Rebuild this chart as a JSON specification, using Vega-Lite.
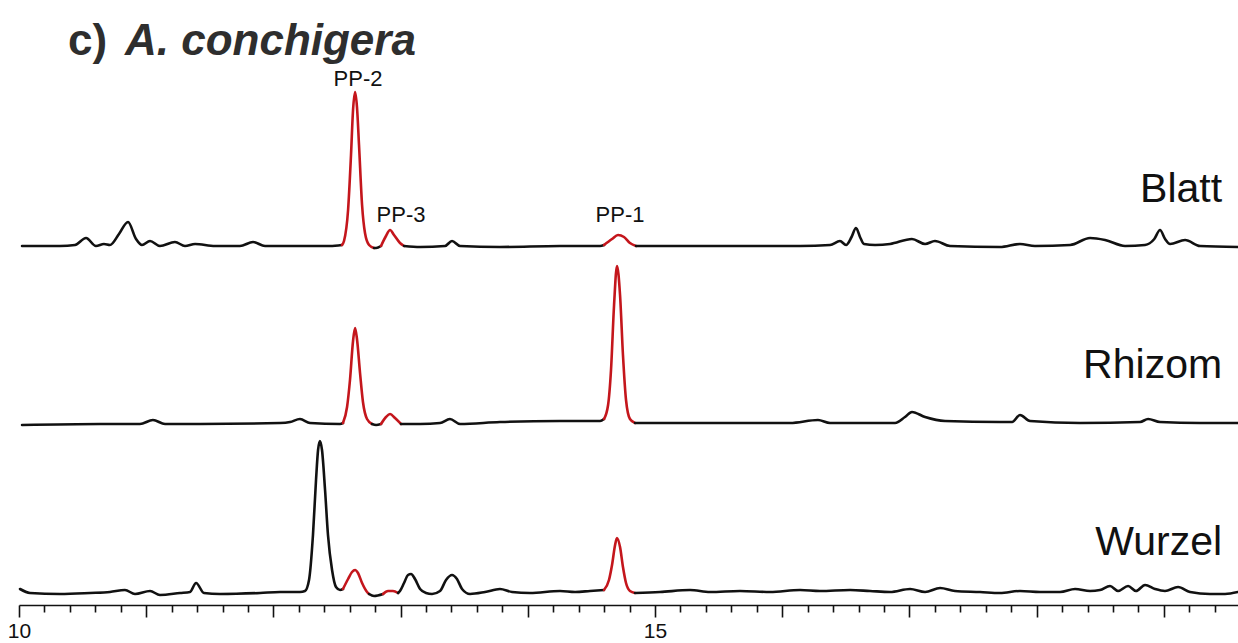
{
  "$schema": "https://vega.github.io/schema/vega-lite/v6.json",
  "autosize": {"type": "none"},
  "width": 1219,
  "height": 605,
  "padding": {"left": 19, "top": 0, "right": 0, "bottom": 38},
  "background": "white",
  "config": {"view": {"stroke": null}, "font": "Liberation Sans"},
  "datasets": {
    "traces": [
      {"trace":"Blatt","seg":"Blatt-1","peak":"none","t":10.024,"y":359},
      {"trace":"Blatt","seg":"Blatt-1","peak":"none","t":10.322,"y":359},
      {"trace":"Blatt","seg":"Blatt-1","peak":"none","t":10.440,"y":360},
      {"trace":"Blatt","seg":"Blatt-1","peak":"none","t":10.527,"y":367},
      {"trace":"Blatt","seg":"Blatt-1","peak":"none","t":10.605,"y":359},
      {"trace":"Blatt","seg":"Blatt-1","peak":"none","t":10.668,"y":361},
      {"trace":"Blatt","seg":"Blatt-1","peak":"none","t":10.715,"y":360},
      {"trace":"Blatt","seg":"Blatt-1","peak":"none","t":10.786,"y":371},
      {"trace":"Blatt","seg":"Blatt-1","peak":"none","t":10.857,"y":383},
      {"trace":"Blatt","seg":"Blatt-1","peak":"none","t":10.920,"y":366},
      {"trace":"Blatt","seg":"Blatt-1","peak":"none","t":10.967,"y":360},
      {"trace":"Blatt","seg":"Blatt-1","peak":"none","t":11.030,"y":364},
      {"trace":"Blatt","seg":"Blatt-1","peak":"none","t":11.108,"y":359},
      {"trace":"Blatt","seg":"Blatt-1","peak":"none","t":11.226,"y":363},
      {"trace":"Blatt","seg":"Blatt-1","peak":"none","t":11.305,"y":359},
      {"trace":"Blatt","seg":"Blatt-1","peak":"none","t":11.384,"y":361},
      {"trace":"Blatt","seg":"Blatt-1","peak":"none","t":11.541,"y":359},
      {"trace":"Blatt","seg":"Blatt-1","peak":"none","t":11.737,"y":359},
      {"trace":"Blatt","seg":"Blatt-1","peak":"none","t":11.840,"y":363},
      {"trace":"Blatt","seg":"Blatt-1","peak":"none","t":11.934,"y":359},
      {"trace":"Blatt","seg":"Blatt-1","peak":"none","t":12.209,"y":359},
      {"trace":"Blatt","seg":"Blatt-1","peak":"none","t":12.445,"y":359},
      {"trace":"Blatt","seg":"Blatt-1","peak":"none","t":12.539,"y":360},
      {"trace":"Blatt","seg":"Blatt-PP2","peak":"PP-2","t":12.539,"y":360},
      {"trace":"Blatt","seg":"Blatt-PP2","peak":"PP-2","t":12.555,"y":364},
      {"trace":"Blatt","seg":"Blatt-PP2","peak":"PP-2","t":12.587,"y":395},
      {"trace":"Blatt","seg":"Blatt-PP2","peak":"PP-2","t":12.610,"y":450},
      {"trace":"Blatt","seg":"Blatt-PP2","peak":"PP-2","t":12.626,"y":495},
      {"trace":"Blatt","seg":"Blatt-PP2","peak":"PP-2","t":12.642,"y":513},
      {"trace":"Blatt","seg":"Blatt-PP2","peak":"PP-2","t":12.657,"y":498},
      {"trace":"Blatt","seg":"Blatt-PP2","peak":"PP-2","t":12.673,"y":460},
      {"trace":"Blatt","seg":"Blatt-PP2","peak":"PP-2","t":12.697,"y":400},
      {"trace":"Blatt","seg":"Blatt-PP2","peak":"PP-2","t":12.720,"y":372},
      {"trace":"Blatt","seg":"Blatt-PP2","peak":"PP-2","t":12.752,"y":360},
      {"trace":"Blatt","seg":"Blatt-PP2","peak":"PP-2","t":12.791,"y":357},
      {"trace":"Blatt","seg":"Blatt-2","peak":"none","t":12.791,"y":357},
      {"trace":"Blatt","seg":"Blatt-2","peak":"none","t":12.807,"y":357},
      {"trace":"Blatt","seg":"Blatt-2","peak":"none","t":12.846,"y":359},
      {"trace":"Blatt","seg":"Blatt-PP3","peak":"PP-3","t":12.846,"y":359},
      {"trace":"Blatt","seg":"Blatt-PP3","peak":"PP-3","t":12.885,"y":369},
      {"trace":"Blatt","seg":"Blatt-PP3","peak":"PP-3","t":12.917,"y":375},
      {"trace":"Blatt","seg":"Blatt-PP3","peak":"PP-3","t":12.948,"y":370},
      {"trace":"Blatt","seg":"Blatt-PP3","peak":"PP-3","t":12.995,"y":362},
      {"trace":"Blatt","seg":"Blatt-PP3","peak":"PP-3","t":13.027,"y":359},
      {"trace":"Blatt","seg":"Blatt-3","peak":"none","t":13.027,"y":359},
      {"trace":"Blatt","seg":"Blatt-3","peak":"none","t":13.153,"y":358},
      {"trace":"Blatt","seg":"Blatt-3","peak":"none","t":13.349,"y":359},
      {"trace":"Blatt","seg":"Blatt-3","peak":"none","t":13.404,"y":364},
      {"trace":"Blatt","seg":"Blatt-3","peak":"none","t":13.467,"y":359},
      {"trace":"Blatt","seg":"Blatt-3","peak":"none","t":13.781,"y":358},
      {"trace":"Blatt","seg":"Blatt-3","peak":"none","t":14.253,"y":359},
      {"trace":"Blatt","seg":"Blatt-3","peak":"none","t":14.568,"y":359},
      {"trace":"Blatt","seg":"Blatt-3","peak":"none","t":14.599,"y":360},
      {"trace":"Blatt","seg":"Blatt-PP1","peak":"PP-1","t":14.599,"y":360},
      {"trace":"Blatt","seg":"Blatt-PP1","peak":"PP-1","t":14.662,"y":366},
      {"trace":"Blatt","seg":"Blatt-PP1","peak":"PP-1","t":14.709,"y":370},
      {"trace":"Blatt","seg":"Blatt-PP1","peak":"PP-1","t":14.756,"y":368},
      {"trace":"Blatt","seg":"Blatt-PP1","peak":"PP-1","t":14.803,"y":362},
      {"trace":"Blatt","seg":"Blatt-PP1","peak":"PP-1","t":14.851,"y":359},
      {"trace":"Blatt","seg":"Blatt-4","peak":"none","t":14.851,"y":359},
      {"trace":"Blatt","seg":"Blatt-4","peak":"none","t":15.354,"y":359},
      {"trace":"Blatt","seg":"Blatt-4","peak":"none","t":16.140,"y":359},
      {"trace":"Blatt","seg":"Blatt-4","peak":"none","t":16.376,"y":360},
      {"trace":"Blatt","seg":"Blatt-4","peak":"none","t":16.454,"y":364},
      {"trace":"Blatt","seg":"Blatt-4","peak":"none","t":16.502,"y":360},
      {"trace":"Blatt","seg":"Blatt-4","peak":"none","t":16.545,"y":368},
      {"trace":"Blatt","seg":"Blatt-4","peak":"none","t":16.580,"y":377},
      {"trace":"Blatt","seg":"Blatt-4","peak":"none","t":16.615,"y":367},
      {"trace":"Blatt","seg":"Blatt-4","peak":"none","t":16.643,"y":361},
      {"trace":"Blatt","seg":"Blatt-4","peak":"none","t":16.730,"y":360},
      {"trace":"Blatt","seg":"Blatt-4","peak":"none","t":16.848,"y":361},
      {"trace":"Blatt","seg":"Blatt-4","peak":"none","t":17.020,"y":366},
      {"trace":"Blatt","seg":"Blatt-4","peak":"none","t":17.123,"y":361},
      {"trace":"Blatt","seg":"Blatt-4","peak":"none","t":17.201,"y":364},
      {"trace":"Blatt","seg":"Blatt-4","peak":"none","t":17.319,"y":359},
      {"trace":"Blatt","seg":"Blatt-4","peak":"none","t":17.712,"y":358},
      {"trace":"Blatt","seg":"Blatt-4","peak":"none","t":17.869,"y":361},
      {"trace":"Blatt","seg":"Blatt-4","peak":"none","t":17.987,"y":359},
      {"trace":"Blatt","seg":"Blatt-4","peak":"none","t":18.263,"y":360},
      {"trace":"Blatt","seg":"Blatt-4","peak":"none","t":18.420,"y":367},
      {"trace":"Blatt","seg":"Blatt-4","peak":"none","t":18.538,"y":365},
      {"trace":"Blatt","seg":"Blatt-4","peak":"none","t":18.695,"y":359},
      {"trace":"Blatt","seg":"Blatt-4","peak":"none","t":18.852,"y":360},
      {"trace":"Blatt","seg":"Blatt-4","peak":"none","t":18.925,"y":366},
      {"trace":"Blatt","seg":"Blatt-4","peak":"none","t":18.970,"y":375},
      {"trace":"Blatt","seg":"Blatt-4","peak":"none","t":19.010,"y":366},
      {"trace":"Blatt","seg":"Blatt-4","peak":"none","t":19.049,"y":361},
      {"trace":"Blatt","seg":"Blatt-4","peak":"none","t":19.167,"y":365},
      {"trace":"Blatt","seg":"Blatt-4","peak":"none","t":19.285,"y":359},
      {"trace":"Blatt","seg":"Blatt-4","peak":"none","t":19.583,"y":358},

      {"trace":"Rhizom","seg":"Rhizom-1","peak":"none","t":10.024,"y":180},
      {"trace":"Rhizom","seg":"Rhizom-1","peak":"none","t":10.637,"y":181},
      {"trace":"Rhizom","seg":"Rhizom-1","peak":"none","t":10.951,"y":181},
      {"trace":"Rhizom","seg":"Rhizom-1","peak":"none","t":11.053,"y":185},
      {"trace":"Rhizom","seg":"Rhizom-1","peak":"none","t":11.148,"y":181},
      {"trace":"Rhizom","seg":"Rhizom-1","peak":"none","t":11.423,"y":181},
      {"trace":"Rhizom","seg":"Rhizom-1","peak":"none","t":12.052,"y":182},
      {"trace":"Rhizom","seg":"Rhizom-1","peak":"none","t":12.131,"y":183},
      {"trace":"Rhizom","seg":"Rhizom-1","peak":"none","t":12.209,"y":186},
      {"trace":"Rhizom","seg":"Rhizom-1","peak":"none","t":12.288,"y":182},
      {"trace":"Rhizom","seg":"Rhizom-1","peak":"none","t":12.524,"y":181},
      {"trace":"Rhizom","seg":"Rhizom-1","peak":"none","t":12.547,"y":182},
      {"trace":"Rhizom","seg":"Rhizom-PP2","peak":"PP-2","t":12.547,"y":182},
      {"trace":"Rhizom","seg":"Rhizom-PP2","peak":"PP-2","t":12.579,"y":198},
      {"trace":"Rhizom","seg":"Rhizom-PP2","peak":"PP-2","t":12.602,"y":225},
      {"trace":"Rhizom","seg":"Rhizom-PP2","peak":"PP-2","t":12.626,"y":264},
      {"trace":"Rhizom","seg":"Rhizom-PP2","peak":"PP-2","t":12.642,"y":277},
      {"trace":"Rhizom","seg":"Rhizom-PP2","peak":"PP-2","t":12.657,"y":266},
      {"trace":"Rhizom","seg":"Rhizom-PP2","peak":"PP-2","t":12.681,"y":232},
      {"trace":"Rhizom","seg":"Rhizom-PP2","peak":"PP-2","t":12.704,"y":203},
      {"trace":"Rhizom","seg":"Rhizom-PP2","peak":"PP-2","t":12.736,"y":186},
      {"trace":"Rhizom","seg":"Rhizom-PP2","peak":"PP-2","t":12.775,"y":181},
      {"trace":"Rhizom","seg":"Rhizom-2","peak":"none","t":12.775,"y":181},
      {"trace":"Rhizom","seg":"Rhizom-2","peak":"none","t":12.807,"y":180},
      {"trace":"Rhizom","seg":"Rhizom-2","peak":"none","t":12.846,"y":181},
      {"trace":"Rhizom","seg":"Rhizom-PP3","peak":"PP-3","t":12.846,"y":181},
      {"trace":"Rhizom","seg":"Rhizom-PP3","peak":"PP-3","t":12.885,"y":188},
      {"trace":"Rhizom","seg":"Rhizom-PP3","peak":"PP-3","t":12.917,"y":191},
      {"trace":"Rhizom","seg":"Rhizom-PP3","peak":"PP-3","t":12.956,"y":187},
      {"trace":"Rhizom","seg":"Rhizom-PP3","peak":"PP-3","t":13.003,"y":181},
      {"trace":"Rhizom","seg":"Rhizom-3","peak":"none","t":13.003,"y":181},
      {"trace":"Rhizom","seg":"Rhizom-3","peak":"none","t":13.153,"y":181},
      {"trace":"Rhizom","seg":"Rhizom-3","peak":"none","t":13.310,"y":182},
      {"trace":"Rhizom","seg":"Rhizom-3","peak":"none","t":13.388,"y":186},
      {"trace":"Rhizom","seg":"Rhizom-3","peak":"none","t":13.467,"y":181},
      {"trace":"Rhizom","seg":"Rhizom-3","peak":"none","t":13.781,"y":183},
      {"trace":"Rhizom","seg":"Rhizom-3","peak":"none","t":14.253,"y":184},
      {"trace":"Rhizom","seg":"Rhizom-3","peak":"none","t":14.568,"y":184},
      {"trace":"Rhizom","seg":"Rhizom-3","peak":"none","t":14.599,"y":186},
      {"trace":"Rhizom","seg":"Rhizom-PP1","peak":"PP-1","t":14.599,"y":186},
      {"trace":"Rhizom","seg":"Rhizom-PP1","peak":"PP-1","t":14.631,"y":200},
      {"trace":"Rhizom","seg":"Rhizom-PP1","peak":"PP-1","t":14.654,"y":235},
      {"trace":"Rhizom","seg":"Rhizom-PP1","peak":"PP-1","t":14.678,"y":300},
      {"trace":"Rhizom","seg":"Rhizom-PP1","peak":"PP-1","t":14.701,"y":339},
      {"trace":"Rhizom","seg":"Rhizom-PP1","peak":"PP-1","t":14.725,"y":310},
      {"trace":"Rhizom","seg":"Rhizom-PP1","peak":"PP-1","t":14.748,"y":250},
      {"trace":"Rhizom","seg":"Rhizom-PP1","peak":"PP-1","t":14.772,"y":205},
      {"trace":"Rhizom","seg":"Rhizom-PP1","peak":"PP-1","t":14.803,"y":186},
      {"trace":"Rhizom","seg":"Rhizom-PP1","peak":"PP-1","t":14.843,"y":182},
      {"trace":"Rhizom","seg":"Rhizom-4","peak":"none","t":14.843,"y":182},
      {"trace":"Rhizom","seg":"Rhizom-4","peak":"none","t":15.354,"y":182},
      {"trace":"Rhizom","seg":"Rhizom-4","peak":"none","t":16.061,"y":182},
      {"trace":"Rhizom","seg":"Rhizom-4","peak":"none","t":16.281,"y":185},
      {"trace":"Rhizom","seg":"Rhizom-4","peak":"none","t":16.376,"y":182},
      {"trace":"Rhizom","seg":"Rhizom-4","peak":"none","t":16.887,"y":182},
      {"trace":"Rhizom","seg":"Rhizom-4","peak":"none","t":16.965,"y":188},
      {"trace":"Rhizom","seg":"Rhizom-4","peak":"none","t":17.020,"y":193},
      {"trace":"Rhizom","seg":"Rhizom-4","peak":"none","t":17.123,"y":188},
      {"trace":"Rhizom","seg":"Rhizom-4","peak":"none","t":17.280,"y":184},
      {"trace":"Rhizom","seg":"Rhizom-4","peak":"none","t":17.712,"y":183},
      {"trace":"Rhizom","seg":"Rhizom-4","peak":"none","t":17.807,"y":183},
      {"trace":"Rhizom","seg":"Rhizom-4","peak":"none","t":17.869,"y":190},
      {"trace":"Rhizom","seg":"Rhizom-4","peak":"none","t":17.948,"y":184},
      {"trace":"Rhizom","seg":"Rhizom-4","peak":"none","t":18.341,"y":182},
      {"trace":"Rhizom","seg":"Rhizom-4","peak":"none","t":18.813,"y":183},
      {"trace":"Rhizom","seg":"Rhizom-4","peak":"none","t":18.876,"y":186},
      {"trace":"Rhizom","seg":"Rhizom-4","peak":"none","t":18.970,"y":183},
      {"trace":"Rhizom","seg":"Rhizom-4","peak":"none","t":19.285,"y":182},
      {"trace":"Rhizom","seg":"Rhizom-4","peak":"none","t":19.583,"y":182},

      {"trace":"Wurzel","seg":"Wurzel-1","peak":"none","t":10.008,"y":16},
      {"trace":"Wurzel","seg":"Wurzel-1","peak":"none","t":10.086,"y":12},
      {"trace":"Wurzel","seg":"Wurzel-1","peak":"none","t":10.322,"y":11},
      {"trace":"Wurzel","seg":"Wurzel-1","peak":"none","t":10.558,"y":12},
      {"trace":"Wurzel","seg":"Wurzel-1","peak":"none","t":10.715,"y":13},
      {"trace":"Wurzel","seg":"Wurzel-1","peak":"none","t":10.833,"y":15},
      {"trace":"Wurzel","seg":"Wurzel-1","peak":"none","t":10.912,"y":11},
      {"trace":"Wurzel","seg":"Wurzel-1","peak":"none","t":11.030,"y":14},
      {"trace":"Wurzel","seg":"Wurzel-1","peak":"none","t":11.108,"y":10},
      {"trace":"Wurzel","seg":"Wurzel-1","peak":"none","t":11.266,"y":12},
      {"trace":"Wurzel","seg":"Wurzel-1","peak":"none","t":11.344,"y":13},
      {"trace":"Wurzel","seg":"Wurzel-1","peak":"none","t":11.392,"y":22},
      {"trace":"Wurzel","seg":"Wurzel-1","peak":"none","t":11.454,"y":12},
      {"trace":"Wurzel","seg":"Wurzel-1","peak":"none","t":11.580,"y":11},
      {"trace":"Wurzel","seg":"Wurzel-1","peak":"none","t":11.895,"y":12},
      {"trace":"Wurzel","seg":"Wurzel-1","peak":"none","t":12.052,"y":13},
      {"trace":"Wurzel","seg":"Wurzel-1","peak":"none","t":12.209,"y":13},
      {"trace":"Wurzel","seg":"Wurzel-1","peak":"none","t":12.248,"y":14},
      {"trace":"Wurzel","seg":"Wurzel-1","peak":"none","t":12.280,"y":25},
      {"trace":"Wurzel","seg":"Wurzel-1","peak":"none","t":12.311,"y":70},
      {"trace":"Wurzel","seg":"Wurzel-1","peak":"none","t":12.335,"y":125},
      {"trace":"Wurzel","seg":"Wurzel-1","peak":"none","t":12.351,"y":155},
      {"trace":"Wurzel","seg":"Wurzel-1","peak":"none","t":12.366,"y":164},
      {"trace":"Wurzel","seg":"Wurzel-1","peak":"none","t":12.382,"y":155},
      {"trace":"Wurzel","seg":"Wurzel-1","peak":"none","t":12.406,"y":115},
      {"trace":"Wurzel","seg":"Wurzel-1","peak":"none","t":12.429,"y":70},
      {"trace":"Wurzel","seg":"Wurzel-1","peak":"none","t":12.461,"y":35},
      {"trace":"Wurzel","seg":"Wurzel-1","peak":"none","t":12.492,"y":18},
      {"trace":"Wurzel","seg":"Wurzel-1","peak":"none","t":12.524,"y":15},
      {"trace":"Wurzel","seg":"Wurzel-1","peak":"none","t":12.547,"y":16},
      {"trace":"Wurzel","seg":"Wurzel-PP2","peak":"PP-2","t":12.547,"y":16},
      {"trace":"Wurzel","seg":"Wurzel-PP2","peak":"PP-2","t":12.587,"y":26},
      {"trace":"Wurzel","seg":"Wurzel-PP2","peak":"PP-2","t":12.618,"y":33},
      {"trace":"Wurzel","seg":"Wurzel-PP2","peak":"PP-2","t":12.642,"y":35},
      {"trace":"Wurzel","seg":"Wurzel-PP2","peak":"PP-2","t":12.665,"y":32},
      {"trace":"Wurzel","seg":"Wurzel-PP2","peak":"PP-2","t":12.697,"y":22},
      {"trace":"Wurzel","seg":"Wurzel-PP2","peak":"PP-2","t":12.736,"y":13},
      {"trace":"Wurzel","seg":"Wurzel-PP2","peak":"PP-2","t":12.752,"y":11},
      {"trace":"Wurzel","seg":"Wurzel-2","peak":"none","t":12.752,"y":11},
      {"trace":"Wurzel","seg":"Wurzel-2","peak":"none","t":12.791,"y":9},
      {"trace":"Wurzel","seg":"Wurzel-2","peak":"none","t":12.862,"y":11},
      {"trace":"Wurzel","seg":"Wurzel-PP3","peak":"PP-3","t":12.862,"y":11},
      {"trace":"Wurzel","seg":"Wurzel-PP3","peak":"PP-3","t":12.901,"y":14},
      {"trace":"Wurzel","seg":"Wurzel-PP3","peak":"PP-3","t":12.940,"y":14},
      {"trace":"Wurzel","seg":"Wurzel-PP3","peak":"PP-3","t":12.980,"y":12},
      {"trace":"Wurzel","seg":"Wurzel-3","peak":"none","t":12.980,"y":12},
      {"trace":"Wurzel","seg":"Wurzel-3","peak":"none","t":12.995,"y":14},
      {"trace":"Wurzel","seg":"Wurzel-3","peak":"none","t":13.027,"y":22},
      {"trace":"Wurzel","seg":"Wurzel-3","peak":"none","t":13.058,"y":30},
      {"trace":"Wurzel","seg":"Wurzel-3","peak":"none","t":13.082,"y":31},
      {"trace":"Wurzel","seg":"Wurzel-3","peak":"none","t":13.113,"y":26},
      {"trace":"Wurzel","seg":"Wurzel-3","peak":"none","t":13.153,"y":16},
      {"trace":"Wurzel","seg":"Wurzel-3","peak":"none","t":13.200,"y":12},
      {"trace":"Wurzel","seg":"Wurzel-3","peak":"none","t":13.247,"y":11},
      {"trace":"Wurzel","seg":"Wurzel-3","peak":"none","t":13.310,"y":14},
      {"trace":"Wurzel","seg":"Wurzel-3","peak":"none","t":13.357,"y":25},
      {"trace":"Wurzel","seg":"Wurzel-3","peak":"none","t":13.404,"y":30},
      {"trace":"Wurzel","seg":"Wurzel-3","peak":"none","t":13.443,"y":26},
      {"trace":"Wurzel","seg":"Wurzel-3","peak":"none","t":13.483,"y":16},
      {"trace":"Wurzel","seg":"Wurzel-3","peak":"none","t":13.546,"y":11},
      {"trace":"Wurzel","seg":"Wurzel-3","peak":"none","t":13.664,"y":13},
      {"trace":"Wurzel","seg":"Wurzel-3","peak":"none","t":13.781,"y":16},
      {"trace":"Wurzel","seg":"Wurzel-3","peak":"none","t":13.876,"y":13},
      {"trace":"Wurzel","seg":"Wurzel-3","peak":"none","t":14.017,"y":12},
      {"trace":"Wurzel","seg":"Wurzel-3","peak":"none","t":14.253,"y":14},
      {"trace":"Wurzel","seg":"Wurzel-3","peak":"none","t":14.371,"y":13},
      {"trace":"Wurzel","seg":"Wurzel-3","peak":"none","t":14.489,"y":14},
      {"trace":"Wurzel","seg":"Wurzel-3","peak":"none","t":14.599,"y":15},
      {"trace":"Wurzel","seg":"Wurzel-PP1","peak":"PP-1","t":14.599,"y":15},
      {"trace":"Wurzel","seg":"Wurzel-PP1","peak":"PP-1","t":14.638,"y":25},
      {"trace":"Wurzel","seg":"Wurzel-PP1","peak":"PP-1","t":14.662,"y":40},
      {"trace":"Wurzel","seg":"Wurzel-PP1","peak":"PP-1","t":14.686,"y":60},
      {"trace":"Wurzel","seg":"Wurzel-PP1","peak":"PP-1","t":14.701,"y":67},
      {"trace":"Wurzel","seg":"Wurzel-PP1","peak":"PP-1","t":14.725,"y":58},
      {"trace":"Wurzel","seg":"Wurzel-PP1","peak":"PP-1","t":14.748,"y":38},
      {"trace":"Wurzel","seg":"Wurzel-PP1","peak":"PP-1","t":14.772,"y":22},
      {"trace":"Wurzel","seg":"Wurzel-PP1","peak":"PP-1","t":14.803,"y":14},
      {"trace":"Wurzel","seg":"Wurzel-PP1","peak":"PP-1","t":14.843,"y":12},
      {"trace":"Wurzel","seg":"Wurzel-4","peak":"none","t":14.843,"y":12},
      {"trace":"Wurzel","seg":"Wurzel-4","peak":"none","t":15.039,"y":13},
      {"trace":"Wurzel","seg":"Wurzel-4","peak":"none","t":15.275,"y":15},
      {"trace":"Wurzel","seg":"Wurzel-4","peak":"none","t":15.432,"y":13},
      {"trace":"Wurzel","seg":"Wurzel-4","peak":"none","t":15.668,"y":14},
      {"trace":"Wurzel","seg":"Wurzel-4","peak":"none","t":15.904,"y":13},
      {"trace":"Wurzel","seg":"Wurzel-4","peak":"none","t":16.140,"y":15},
      {"trace":"Wurzel","seg":"Wurzel-4","peak":"none","t":16.297,"y":14},
      {"trace":"Wurzel","seg":"Wurzel-4","peak":"none","t":16.533,"y":15},
      {"trace":"Wurzel","seg":"Wurzel-4","peak":"none","t":16.690,"y":14},
      {"trace":"Wurzel","seg":"Wurzel-4","peak":"none","t":16.848,"y":13},
      {"trace":"Wurzel","seg":"Wurzel-4","peak":"none","t":17.005,"y":16},
      {"trace":"Wurzel","seg":"Wurzel-4","peak":"none","t":17.123,"y":13},
      {"trace":"Wurzel","seg":"Wurzel-4","peak":"none","t":17.241,"y":17},
      {"trace":"Wurzel","seg":"Wurzel-4","peak":"none","t":17.358,"y":14},
      {"trace":"Wurzel","seg":"Wurzel-4","peak":"none","t":17.555,"y":13},
      {"trace":"Wurzel","seg":"Wurzel-4","peak":"none","t":17.712,"y":12},
      {"trace":"Wurzel","seg":"Wurzel-4","peak":"none","t":17.869,"y":14},
      {"trace":"Wurzel","seg":"Wurzel-4","peak":"none","t":18.027,"y":13},
      {"trace":"Wurzel","seg":"Wurzel-4","peak":"none","t":18.184,"y":13},
      {"trace":"Wurzel","seg":"Wurzel-4","peak":"none","t":18.302,"y":16},
      {"trace":"Wurzel","seg":"Wurzel-4","peak":"none","t":18.420,"y":14},
      {"trace":"Wurzel","seg":"Wurzel-4","peak":"none","t":18.498,"y":15},
      {"trace":"Wurzel","seg":"Wurzel-4","peak":"none","t":18.577,"y":19},
      {"trace":"Wurzel","seg":"Wurzel-4","peak":"none","t":18.640,"y":14},
      {"trace":"Wurzel","seg":"Wurzel-4","peak":"none","t":18.719,"y":19},
      {"trace":"Wurzel","seg":"Wurzel-4","peak":"none","t":18.781,"y":14},
      {"trace":"Wurzel","seg":"Wurzel-4","peak":"none","t":18.852,"y":20},
      {"trace":"Wurzel","seg":"Wurzel-4","peak":"none","t":18.931,"y":16},
      {"trace":"Wurzel","seg":"Wurzel-4","peak":"none","t":19.009,"y":14},
      {"trace":"Wurzel","seg":"Wurzel-4","peak":"none","t":19.112,"y":18},
      {"trace":"Wurzel","seg":"Wurzel-4","peak":"none","t":19.206,"y":13},
      {"trace":"Wurzel","seg":"Wurzel-4","peak":"none","t":19.363,"y":11},
      {"trace":"Wurzel","seg":"Wurzel-4","peak":"none","t":19.481,"y":11},
      {"trace":"Wurzel","seg":"Wurzel-4","peak":"none","t":19.583,"y":13}
    ],
    "peakLabels": [
      {"label":"PP-2","t":12.665,"y":519},
      {"label":"PP-3","t":13.003,"y":383},
      {"label":"PP-1","t":14.725,"y":383}
    ],
    "traceNames": [
      {"name":"Blatt","t":19.458,"y":403},
      {"name":"Rhizom","t":19.458,"y":227},
      {"name":"Wurzel","t":19.458,"y":50}
    ]
  },
  "layer": [
    {
      "data": {"name": "traces"},
      "mark": {"type": "line", "interpolate": "monotone", "strokeWidth": 2.6, "strokeJoin": "round", "strokeCap": "round"},
      "encoding": {
        "x": {
          "field": "t", "type": "quantitative",
          "scale": {"domain": [10, 19.583], "nice": false, "zero": false},
          "axis": {
            "title": null,
            "grid": false,
            "tickCount": 200,
            "values": [10,10.2,10.4,10.6,10.8,11,11.2,11.4,11.6,11.8,12,12.2,12.4,12.6,12.8,13,13.2,13.4,13.6,13.8,14,14.2,14.4,14.6,14.8,15,15.2,15.4,15.6,15.8,16,16.2,16.4,16.6,16.8,17,17.2,17.4,17.6,17.8,18,18.2,18.4,18.6,18.8,19,19.2,19.4],
            "labelExpr": "abs(datum.value - 10) < 0.001 || abs(datum.value - 15) < 0.001 ? format(datum.value, 'd') : ''",
            "labelOverlap": false,
            "labelFlush": false,
            "labelFont": "Liberation Sans Narrow, Liberation Sans",
            "labelFontSize": 21,
            "labelColor": "#111",
            "labelPadding": 3,
            "tickColor": "#111",
            "tickWidth": 1.6,
            "tickSize": {"condition": {"test": "abs(datum.value - round(datum.value)) < 0.001", "value": 12}, "value": 7},
            "domainColor": "#111",
            "domainWidth": 1.6
          }
        },
        "y": {
          "field": "y", "type": "quantitative",
          "scale": {"domain": [0, 605], "nice": false, "zero": false},
          "axis": null
        },
        "detail": {"field": "seg"},
        "color": {
          "field": "peak", "type": "nominal",
          "scale": {"domain": ["none", "PP-1", "PP-2", "PP-3"], "range": ["#111111", "#c4161c", "#c4161c", "#c4161c"]},
          "legend": null
        }
      }
    },
    {
      "data": {"name": "peakLabels"},
      "mark": {"type": "text", "font": "Liberation Sans", "fontSize": 22, "color": "#111", "align": "center", "baseline": "alphabetic"},
      "encoding": {
        "x": {"field": "t", "type": "quantitative"},
        "y": {"field": "y", "type": "quantitative"},
        "text": {"field": "label"}
      }
    },
    {
      "data": {"name": "traceNames"},
      "mark": {"type": "text", "font": "Liberation Sans", "fontSize": 41, "color": "#111", "align": "right", "baseline": "alphabetic"},
      "encoding": {
        "x": {"field": "t", "type": "quantitative"},
        "y": {"field": "y", "type": "quantitative"},
        "text": {"field": "name"}
      }
    },
    {
      "data": {"values": [{}]},
      "mark": {"type": "text", "font": "Liberation Sans", "fontSize": 44, "fontWeight": "bold", "color": "#2e2e2e", "align": "left", "baseline": "alphabetic"},
      "encoding": {
        "x": {"datum": 10.385, "type": "quantitative"},
        "y": {"datum": 550, "type": "quantitative"},
        "text": {"value": "c)"}
      }
    },
    {
      "data": {"values": [{}]},
      "mark": {"type": "text", "font": "Liberation Sans", "fontSize": 44, "fontWeight": "bold", "fontStyle": "italic", "color": "#2e2e2e", "align": "left", "baseline": "alphabetic"},
      "encoding": {
        "x": {"datum": 10.833, "type": "quantitative"},
        "y": {"datum": 550, "type": "quantitative"},
        "text": {"value": "A. conchigera"}
      }
    }
  ]
}
